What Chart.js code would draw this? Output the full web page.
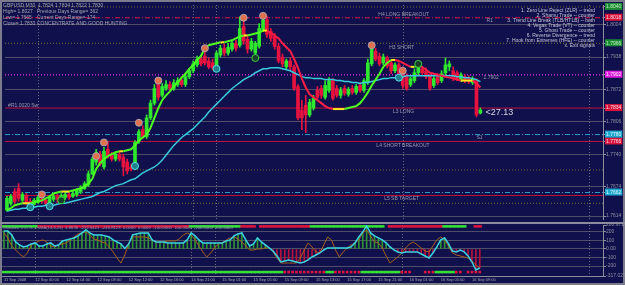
<!DOCTYPE html>
<html><head><meta charset="utf-8">
<script src="https://cdn.jsdelivr.net/npm/chart.js@4.4.0/dist/chart.umd.min.js"></script>
<style>
html,body{margin:0;padding:0;background:#10104c;width:625px;height:285px;overflow:hidden}
#wrap{position:relative;width:625px;height:285px;box-shadow:inset 0 0 0 2px #7c7c8c}
#main{position:absolute;left:0;top:0}
#sub{position:absolute;left:0;top:222px}
</style></head><body>
<div id="wrap"><canvas id="main" width="625" height="224" style="width:625px;height:224px"></canvas><canvas id="sub" width="625" height="63" style="width:625px;height:63px"></canvas></div>
<script>
// ---------------- DATA ----------------
const opens = [
1.7626,1.7640,1.7664,1.7670,1.7646,1.7656,1.7644,1.7638,1.7642,1.7650,
1.7646,1.7640,1.7648,1.7654,1.7648,1.7652,1.7658,1.7654,1.7658,1.7664,
1.7670,1.7678,1.7700,1.7724,1.7740,1.7714,1.7750,1.7738,1.7730,1.7740,
1.7734,1.7724,1.7714,1.7714,1.7766,1.7790,1.7776,1.7814,1.7844,1.7886,
1.7860,1.7874,1.7882,1.7874,1.7882,1.7890,1.7882,1.7898,1.7910,1.7922,
1.7934,1.7940,1.7930,1.7926,1.7916,1.7942,1.7956,1.7946,1.7954,1.7966,
1.7962,1.8000,1.7974,1.7954,1.7946,1.7960,1.7994,1.8014,1.7990,1.7980,
1.7960,1.7938,1.7918,1.7930,1.7918,1.7878,1.7830,1.7840,1.7820,1.7834,
1.7870,1.7874,1.7856,1.7870,1.7890,1.7874,1.7860,1.7874,1.7862,1.7874,
1.7866,1.7880,1.7870,1.7886,1.7924,1.7950,1.7940,1.7926,1.7936,1.7926,
1.7910,1.7922,1.7914,1.7900,1.7882,1.7890,1.7906,1.7914,1.7910,1.7900,
1.7880,1.7898,1.7890,1.7906,1.7918,1.7910,1.7906,1.7892,1.7898,1.7894,
1.7886,1.7890,1.7824];
const highs = [
1.7654,1.7658,1.7670,1.7680,1.7662,1.7660,1.7650,1.7650,1.7656,1.7654,
1.7650,1.7656,1.7658,1.7658,1.7660,1.7662,1.7664,1.7664,1.7670,1.7676,
1.7684,1.7706,1.7734,1.7750,1.7746,1.7754,1.7764,1.7744,1.7744,1.7746,
1.7740,1.7730,1.7720,1.7768,1.7790,1.7798,1.7820,1.7850,1.7882,1.7894,
1.7884,1.7890,1.7888,1.7892,1.7896,1.7898,1.7904,1.7914,1.7930,1.7940,
1.7942,1.7956,1.7936,1.7934,1.7950,1.7962,1.7964,1.7966,1.7970,1.7972,
1.8020,1.8014,1.7984,1.7976,1.7970,1.8006,1.8026,1.8022,1.7996,1.7986,
1.7966,1.7944,1.7934,1.7936,1.7922,1.7882,1.7850,1.7860,1.7852,1.7860,
1.7878,1.7880,1.7890,1.7896,1.7894,1.7880,1.7876,1.7880,1.7876,1.7880,
1.7882,1.7886,1.7894,1.7934,1.7964,1.7956,1.7946,1.7944,1.7940,1.7930,
1.7926,1.7926,1.7918,1.7904,1.7898,1.7914,1.7924,1.7918,1.7916,1.7904,
1.7898,1.7904,1.7910,1.7936,1.7930,1.7918,1.7910,1.7906,1.7902,1.7900,
1.7898,1.7894,1.7834];
const lows = [
1.7624,1.7636,1.7640,1.7644,1.7642,1.7638,1.7632,1.7636,1.7640,1.7640,
1.7636,1.7634,1.7644,1.7642,1.7644,1.7648,1.7648,1.7652,1.7654,1.7660,
1.7668,1.7674,1.7698,1.7718,1.7716,1.7710,1.7732,1.7726,1.7726,1.7726,
1.7696,1.7700,1.7706,1.7712,1.7762,1.7772,1.7772,1.7810,1.7840,1.7850,
1.7856,1.7870,1.7870,1.7870,1.7878,1.7878,1.7878,1.7894,1.7906,1.7918,
1.7920,1.7922,1.7914,1.7912,1.7912,1.7938,1.7940,1.7942,1.7950,1.7950,
1.7958,1.7964,1.7946,1.7950,1.7940,1.7956,1.7990,1.7978,1.7970,1.7954,
1.7926,1.7918,1.7914,1.7910,1.7870,1.7810,1.7790,1.7784,1.7816,1.7830,
1.7852,1.7854,1.7852,1.7866,1.7850,1.7856,1.7854,1.7860,1.7858,1.7862,
1.7862,1.7866,1.7866,1.7882,1.7920,1.7930,1.7920,1.7922,1.7916,1.7904,
1.7906,1.7896,1.7874,1.7870,1.7878,1.7886,1.7902,1.7900,1.7894,1.7870,
1.7876,1.7882,1.7886,1.7902,1.7910,1.7890,1.7890,1.7888,1.7886,1.7884,
1.7882,1.7816,1.7822];
const closes = [
1.7650,1.7654,1.7644,1.7650,1.7658,1.7642,1.7636,1.7646,1.7652,1.7644,
1.7640,1.7652,1.7654,1.7648,1.7656,1.7658,1.7652,1.7660,1.7666,1.7672,
1.7680,1.7700,1.7730,1.7744,1.7720,1.7746,1.7736,1.7730,1.7740,1.7730,
1.7714,1.7706,1.7710,1.7764,1.7786,1.7776,1.7814,1.7844,1.7874,1.7856,
1.7878,1.7882,1.7874,1.7886,1.7890,1.7882,1.7898,1.7910,1.7924,1.7934,
1.7924,1.7926,1.7918,1.7916,1.7946,1.7956,1.7946,1.7958,1.7966,1.7956,
1.7996,1.7970,1.7954,1.7970,1.7966,1.7996,1.8014,1.7984,1.7976,1.7960,
1.7930,1.7924,1.7930,1.7918,1.7874,1.7814,1.7814,1.7820,1.7846,1.7854,
1.7856,1.7860,1.7880,1.7890,1.7854,1.7860,1.7870,1.7864,1.7872,1.7866,
1.7878,1.7870,1.7890,1.7926,1.7954,1.7934,1.7924,1.7938,1.7920,1.7910,
1.7922,1.7904,1.7880,1.7874,1.7894,1.7906,1.7918,1.7906,1.7898,1.7874,
1.7894,1.7886,1.7904,1.7922,1.7924,1.7896,1.7894,1.7902,1.7890,1.7888,
1.7894,1.7820,1.7830];
const fastMA = [
1.7626,1.7630,1.7636,1.7638,1.7640,1.7640,1.7640,1.7642,1.7644,1.7646,
1.7650,1.7654,1.7660,1.7662,1.7664,1.7664,1.7664,1.7666,1.7668,1.7670,
1.7674,1.7680,1.7690,1.7710,1.7722,1.7730,1.7736,1.7740,1.7744,1.7746,
1.7746,1.7748,1.7750,1.7758,1.7768,1.7774,1.7780,1.7794,1.7814,1.7834,
1.7850,1.7860,1.7868,1.7878,1.7886,1.7896,1.7904,1.7914,1.7922,1.7932,
1.7940,1.7956,1.7962,1.7964,1.7966,1.7968,1.7968,1.7970,1.7972,1.7976,
1.7980,1.7982,1.7982,1.7984,1.7986,1.7988,1.7992,1.7992,1.7988,1.7982,
1.7976,1.7966,1.7958,1.7950,1.7934,1.7916,1.7894,1.7876,1.7862,1.7856,
1.7850,1.7844,1.7838,1.7834,1.7832,1.7832,1.7832,1.7832,1.7834,1.7836,
1.7838,1.7844,1.7854,1.7866,1.7880,1.7892,1.7904,1.7918,1.7926,1.7932,
1.7932,1.7930,1.7926,1.7922,1.7918,1.7918,1.7920,1.7918,1.7912,1.7906,
1.7904,1.7902,1.7900,1.7898,1.7896,1.7894,1.7892,1.7890,1.7890,1.7890,
1.7890,1.7884,1.7876];
const slowMA = [
1.7624,1.7626,1.7628,1.7628,1.7630,1.7630,1.7632,1.7632,1.7634,1.7634,
1.7636,1.7636,1.7636,1.7638,1.7640,1.7640,1.7642,1.7644,1.7646,1.7648,
1.7650,1.7652,1.7654,1.7658,1.7662,1.7664,1.7668,1.7672,1.7676,1.7678,
1.7680,1.7684,1.7688,1.7690,1.7696,1.7702,1.7706,1.7710,1.7714,1.7720,
1.7728,1.7738,1.7748,1.7758,1.7766,1.7774,1.7780,1.7786,1.7792,1.7800,
1.7808,1.7816,1.7826,1.7834,1.7842,1.7850,1.7858,1.7866,1.7874,1.7880,
1.7886,1.7892,1.7896,1.7900,1.7906,1.7910,1.7914,1.7914,1.7916,1.7916,
1.7916,1.7914,1.7912,1.7910,1.7906,1.7902,1.7898,1.7896,1.7896,1.7894,
1.7894,1.7894,1.7892,1.7892,1.7892,1.7890,1.7890,1.7888,1.7888,1.7886,
1.7886,1.7884,1.7886,1.7886,1.7888,1.7890,1.7892,1.7894,1.7894,1.7896,
1.7896,1.7898,1.7898,1.7900,1.7900,1.7900,1.7900,1.7900,1.7900,1.7900,
1.7900,1.7900,1.7900,1.7900,1.7900,1.7900,1.7898,1.7898,1.7896,1.7896,
1.7894,1.7892,1.7888];
// signal balls
const topSignalBars = [9, 23, 25, 34, 39, 51, 61, 66, 94, 102];
const topSignalPrices = [1.7658, 1.7736, 1.7764, 1.7804, 1.7890, 1.7956, 1.8018, 1.8022, 1.7962, 1.7910];
const cyanSignalBars = [6, 11, 33, 54, 101];
const cyanSignalPrices = [1.7632, 1.7634, 1.7716, 1.7914, 1.7896];
const greenSignalBars = [14, 64, 106];
const greenSignalPrices = [1.7646, 1.7936, 1.7924];
// horizontal levels
const levelPrices = [1.8040, 1.8018, 1.7966, 1.7902, 1.7834, 1.7780, 1.7766, 1.7708, 1.7662, 1.7656, 1.7640];
const levelKinds = ['dotGold','dashDotRed','dotGold','dotMagenta','solidRed','dashDotCyan','solidRed','dotGold','dashDotCyan','solidRed','dotGold'];
const levelTags = ['green','red','green','magenta','red','cyan','red',null,'cyan',null,null];
const gridPrices = [1.7614, 1.7674, 1.7740, 1.7806, 1.7872, 1.7938, 1.8004];
// time axis
const timeTickBars = [0,8,16,24,32,40,48,56,64,72,80,88,96,104,112,120];
const timeTickLabels = ['11 Sep 2008','12 Sep 00:00','12 Sep 04:00','12 Sep 08:00','12 Sep 12:00','12 Sep 16:00','14 Sep 21:00','15 Sep 01:00','15 Sep 05:00','15 Sep 09:00','15 Sep 13:00','15 Sep 17:00','15 Sep 21:00','16 Sep 01:00','16 Sep 05:00','16 Sep 09:00'];
const separatorBars = [8, 48, 54, 102, 150];
// oscillator
const cciValues = [
212,212,165,82,47,24,35,59,71,35,
35,59,71,35,47,94,106,118,129,153,
188,223,188,165,165,165,153,141,106,82,
59,6,59,165,176,188,188,188,106,82,
82,82,71,71,71,71,71,106,188,153,
106,71,71,71,71,71,71,94,106,153,
176,188,106,35,59,129,82,47,12,-24,
-82,-153,-141,-129,-141,-153,-165,-153,-129,-94,
-71,-47,-12,12,12,12,12,12,12,24,
71,141,200,270,188,153,129,106,71,24,
-12,-35,-47,-35,-35,-35,-35,-59,-82,-106,
-47,24,106,129,59,-24,-35,-12,-35,-82,
-153,-247,-223];
const turboValues = [
188,129,35,-12,-59,-94,-47,47,71,94,
106,82,35,24,47,59,71,106,141,176,
188,200,165,118,106,82,71,24,-35,-106,
-165,-71,71,141,141,141,141,129,106,82,
82,82,94,94,94,118,165,188,165,106,
35,-35,-94,-47,12,59,71,106,129,141,
118,82,35,-12,-12,0,0,12,12,-35,
-106,-165,-165,-165,-165,-165,-106,-12,71,24,
-35,-47,47,141,106,-12,-94,-35,12,47,
71,106,188,223,153,82,71,12,-82,-165,
-129,-94,-47,12,59,82,47,12,-24,-35,
35,106,141,106,35,-47,-71,-82,-94,-106,
-141,-188,-223];
const topRowRuns = [[1,9],[-1,39],[1,13],[-1,4],[0,1],[-1,13],[1,19],[0,1],[-1,14],[1,6],[0,2],[-1,2]];
const bottomRowRuns = [[1,72],[-1,11],[1,2],[-1,7],[1,10],[-1,3],[0,3],[-1,3],[1,5],[-1,2],[0,1],[-1,4]];
const oscTicks = [-317.027, -200, -100, 0, 100, 200, 280.9714];
const oscTickLabels = ['-317.027','-200','-100','0.00','100','200','280.9714'];
// texts
const symbolName = 'GBPUSD,M30';
const headerLeft = ['High= 1.8027', 'Low= 1.7665', 'Close= 1.7830'];
const headerRight = ['Previous Days Range= 362', 'Current Days Range= 174', 'CONCENTRATE AND GOOD HUNTING'];
const signalList = ['1. Zero Line Reject (ZLR) -- trend','2. Shamu Trade -- counter','3. Trend Line Break (TLB/HTLB) -- both','4. Vegas Trade (VT) -- counter','5. Ghost Trade -- counter','6. Reverse Divergence -- trend','7. Hook from Extremes (HFE) -- counter','x. Exit signals'];
const levelTexts = ['H4 LONG BREAKOUT','R1','H3 SHORT','L3 LONG','#R1.0020 Sw','S1','L4 SHORT BREAKOUT','L5 SB TARGET','1.7902'];
const levelTextPrices = [1.8018, 1.8018, 1.7966, 1.7834, 1.7834, 1.7780, 1.7766, 1.7656, 1.7902];
const timerText = '<27.13';
const oscTitle = 'Woodies CCI,TL,LSMA(14,6,25)  4.8636  -222.5421  -246.8123  0.0000  0.0000  -100.0000  100.0000  -200.0000  200.0000';

// ---------------- STYLE ----------------
const FONT = "'Liberation Sans', Arial, sans-serif";
const GRID = '#4e4e66', AXIS = '#8c8c9c', TXT = '#a6a6b6', SEP = '#6a6a82';
const UP = '#2ee82e', DOWN = '#e8123e';
const MA_UP = '#4cff1e', MA_DOWN = '#ff1e46', MA_FLAT = '#ffe81a', MA_SLOW = '#3acbdc';
const X_MIN = -0.5, X_MAX = 153.6;
const LEVEL_STYLE = {
  dotGold:{color:'#7a6a34', dash:[1,2], w:1},
  dashDotRed:{color:'#d21848', dash:[5,2,1,2], w:1},
  dotMagenta:{color:'#c81ed2', dash:[1,2], w:1.5},
  solidRed:{color:'#c0103c', dash:[], w:1},
  dashDotCyan:{color:'#2aa0c8', dash:[5,2,1,2], w:1}
};
const TAG_COLORS = {green:['#1c8c34','#c0f0c0'], red:['#d8143c','#ffd8e0'], magenta:['#e01ee0','#ffe6ff'], cyan:['#1ea8cc','#dcf8ff']};
// label placement (bar position, vertical offset in px)
const LEVEL_TEXT_POS = [[95.7,-3],[123.6,3],[98.5,4],[99.5,4],[0.3,-2],[121,3],[95.2,4],[97.2,3],[122.8,3]];
const ROW_TOP = [254, 276], ROW_BOTTOM = [-282, -260];

const bars = opens.map((_, i) => i);
const isUp = i => closes[i] >= opens[i];
const tagOf = v => { const k = levelPrices.indexOf(v); return (k >= 0 && levelTags[k]) ? TAG_COLORS[levelTags[k]] : null; };
const yTickValues = gridPrices.concat(levelPrices.filter((p, k) => levelTags[k])).sort((a, b) => a - b);
function expandRuns(runs){ const out = []; runs.forEach(([s, n]) => { for (let k = 0; k < n; k++) out.push(s); }); return out; }
const topRow = expandRuns(topRowRuns), bottomRow = expandRuns(bottomRowRuns);

function txt(ctx, s, x, y, color, size, align){
  ctx.fillStyle = color; ctx.font = size + 'px ' + FONT;
  ctx.textAlign = align || 'left'; ctx.textBaseline = 'middle'; ctx.fillText(s, x, y);
}
function drawSeparators(chart){
  const {ctx, chartArea:a, scales:{x}} = chart;
  ctx.save(); ctx.strokeStyle = SEP; ctx.lineWidth = 1; ctx.setLineDash([1,2]);
  separatorBars.forEach(b => { const px = Math.round(x.getPixelForValue(b)) + 0.5;
    ctx.beginPath(); ctx.moveTo(px, a.top); ctx.lineTo(px, a.bottom); ctx.stroke(); });
  ctx.restore();
}

// ---------------- MAIN CHART ----------------
const levelDatasets = levelPrices.map((p, k) => {
  const st = LEVEL_STYLE[levelKinds[k]];
  return {type:'line', data:[{x:X_MIN, y:p}, {x:X_MAX, y:p}], borderColor:st.color, borderDash:st.dash,
    borderWidth:st.w, pointRadius:0, order:10};
});
const ball = (xs, ys, fill, stroke) => ({type:'line', showLine:false, data:xs.map((b, k) => ({x:b, y:ys[k]})),
  pointRadius:3.5, pointBackgroundColor:fill, pointBorderColor:stroke, pointBorderWidth:1, order:1});

const mainOverlay = {
  id:'mainOverlay',
  beforeDatasetsDraw(chart){ drawSeparators(chart); },
  afterDatasetsDraw(chart){
    const {ctx, scales:{x, y}} = chart;
    ctx.save();
    const last = opens.length - 1;
    txt(ctx, symbolName + '  ' + [opens[last], highs[last], lows[last], closes[last]].map(v => v.toFixed(4)).join(' '), 3, 6, TXT, 5);
    headerLeft.forEach((s, k) => txt(ctx, s, 3, 11.7 + k * 5.8, TXT, 5));
    headerRight.forEach((s, k) => txt(ctx, s, 37, 11.7 + k * 5.8, TXT, 5));
    signalList.forEach((s, k) => txt(ctx, s, 595, 10.5 + k * 5, '#c4c4d4', 5, 'right'));
    levelTexts.forEach((s, k) => {
      const [b, dy] = LEVEL_TEXT_POS[k];
      txt(ctx, s, x.getPixelForValue(b), y.getPixelForValue(levelTextPrices[k]) + dy, '#9a9aae', 5);
    });
    txt(ctx, timerText, x.getPixelForValue(last + 1.3), y.getPixelForValue(closes[last]) + 2, '#d8d8e2', 9);
    ctx.restore();
  }
};

new Chart(document.getElementById('main'), {
  type:'bar',
  data:{datasets:[
    ...levelDatasets,
    {type:'bar', data:bars.map(i => ({x:i, y:[lows[i], highs[i]]})), backgroundColor:c => isUp(c.dataIndex) ? UP : DOWN,
      barThickness:1, grouped:false, order:6},
    {type:'bar', data:bars.map(i => ({x:i, y:[opens[i], closes[i]]})), backgroundColor:c => isUp(c.dataIndex) ? UP : DOWN,
      barThickness:3, minBarLength:1, grouped:false, order:5},
    {type:'line', data:bars.map(i => ({x:i, y:slowMA[i]})), borderColor:MA_SLOW, borderWidth:1.5, pointRadius:0, order:3},
    {type:'line', data:bars.map(i => ({x:i, y:fastMA[i]})), borderColor:MA_UP, borderWidth:2, pointRadius:0, order:2,
      segment:{borderColor:c => { const d = c.p1.parsed.y - c.p0.parsed.y; return d > 0.00005 ? MA_UP : (d < -0.00005 ? MA_DOWN : MA_FLAT); }}},
    ball(topSignalBars, topSignalPrices, '#e2704a', '#a8a0b0'),
    ball(cyanSignalBars, cyanSignalPrices, '#1f7f8a', '#52e2e8'),
    ball(greenSignalBars, greenSignalPrices, '#16402a', '#3ed23e')
  ]},
  options:{
    responsive:false, animation:false, devicePixelRatio:1,
    layout:{padding:{left:2, top:3, right:0, bottom:3}},
    plugins:{legend:{display:false}, tooltip:{enabled:false}},
    scales:{
      x:{type:'linear', min:X_MIN, max:X_MAX, offset:false, display:false},
      y:{type:'linear', position:'right', min:1.7608, max:1.8044,
        afterFit(s){ s.width = 22; },
        afterBuildTicks(s){ s.ticks = yTickValues.map(v => ({value:v})); },
        ticks:{autoSkip:false, padding:0, font:{size:5, family:FONT},
          callback:v => Number(v).toFixed(4),
          color:c => { const t = tagOf(c.tick.value); return t ? t[1] : '#9090a4'; },
          showLabelBackdrop:c => !!tagOf(c.tick.value),
          backdropColor:c => { const t = tagOf(c.tick.value); return t ? t[0] : 'rgba(0,0,0,0)'; },
          backdropPadding:{top:1, bottom:0, left:1, right:1}},
        grid:{color:c => gridPrices.includes(c.tick.value) ? GRID : 'rgba(0,0,0,0)', drawTicks:true, tickLength:3, tickColor:AXIS},
        border:{display:true, color:AXIS}}
    }
  },
  plugins:[mainOverlay]
});

// ---------------- OSCILLATOR ----------------
const subOverlay = {
  id:'subOverlay',
  beforeDatasetsDraw(chart){ drawSeparators(chart); },
  afterDraw(chart){
    const {ctx} = chart;
    ctx.save();
    ctx.fillStyle = AXIS; ctx.fillRect(0, 0, 625, 2);
    txt(ctx, oscTitle, 3, 5.5, '#9a9aae', 4.2);
    ctx.restore();
  }
};
const rowData = (row, want, band) => row.map((s, i) => s === want ? {x:i, y:band} : null).filter(Boolean);

new Chart(document.getElementById('sub'), {
  type:'bar',
  data:{datasets:[
    {type:'bar', data:bars.map(i => ({x:i, y:cciValues[i]})), backgroundColor:c => cciValues[c.dataIndex] >= 0 ? '#2f942f' : '#b8103a',
      barThickness:1, grouped:false, order:6},
    {type:'bar', data:rowData(topRow, 1, ROW_TOP), backgroundColor:'#33e033', barThickness:4, grouped:false, order:5},
    {type:'bar', data:rowData(topRow, -1, ROW_TOP), backgroundColor:'#e0143c', barThickness:4, grouped:false, order:5},
    {type:'bar', data:rowData(bottomRow, 1, ROW_BOTTOM), backgroundColor:'#33e033', barThickness:4, grouped:false, order:5},
    {type:'bar', data:rowData(bottomRow, -1, ROW_BOTTOM), backgroundColor:'#e0143c', barThickness:2, grouped:false, order:5},
    {type:'line', data:bars.map(i => ({x:i, y:turboValues[i]})), borderColor:'#a8601c', borderWidth:1, pointRadius:0, order:3},
    {type:'line', data:bars.map(i => ({x:i, y:cciValues[i]})), borderColor:'#3ad2e2', borderWidth:1.5, pointRadius:0, order:2}
  ]},
  options:{
    responsive:false, animation:false, devicePixelRatio:1,
    layout:{padding:{left:2, top:3, right:0, bottom:0}},
    plugins:{legend:{display:false}, tooltip:{enabled:false}},
    scales:{
      x:{type:'linear', min:X_MIN, max:X_MAX, offset:false,
        afterFit(s){ s.height = 9; },
        afterBuildTicks(s){ s.ticks = timeTickBars.map(v => ({value:v})); },
        ticks:{autoSkip:false, maxRotation:0, minRotation:0, align:'start', padding:1,
          font:{size:4, family:FONT}, color:'#a6a6b6', callback:(v, i) => timeTickLabels[i]},
        grid:{display:false, drawTicks:false},
        border:{display:true, color:AXIS}},
      y:{type:'linear', position:'right', min:-317.027, max:280.9714,
        afterFit(s){ s.width = 22; },
        afterBuildTicks(s){ s.ticks = oscTicks.map(v => ({value:v})); },
        ticks:{autoSkip:false, padding:0, font:{size:5, family:FONT}, color:'#9090a4',
          callback:(v, i) => oscTickLabels[i]},
        grid:{color:c => [0,100,-100,200,-200].includes(c.tick.value) ? GRID : 'rgba(0,0,0,0)', drawTicks:true, tickLength:3, tickColor:AXIS},
        border:{display:true, color:AXIS}}
    }
  },
  plugins:[subOverlay]
});
</script>
</body></html>
